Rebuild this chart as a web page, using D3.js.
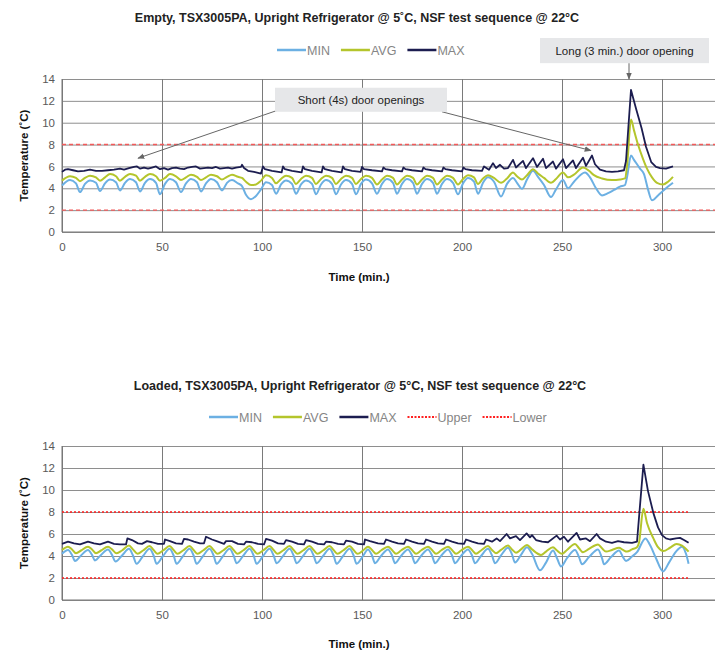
<!DOCTYPE html>
<html><head><meta charset="utf-8">
<script src="https://cdn.jsdelivr.net/npm/d3@7/dist/d3.min.js"></script>
<style>body{margin:0;background:#fff}svg{display:block;font-family:"Liberation Sans",Arial,Helvetica,sans-serif}</style>
</head><body>
<script>
// ---------------- DATA ----------------
const xTicks = [0, 50, 100, 150, 200, 250, 300];
const yTicks = [0, 2, 4, 6, 8, 10, 12, 14];
const limitUpper = 8, limitLower = 2;

const topTitle = "Empty, TSX3005PA, Upright Refrigerator @ 5˚C, NSF test sequence @ 22°C";
const bottomTitle = "Loaded, TSX3005PA, Upright Refrigerator @ 5°C, NSF test sequence @ 22°C";
const topLegend = ["MIN", "AVG", "MAX"];
const bottomLegend = ["MIN", "AVG", "MAX", "Upper", "Lower"];

// [time (min), temperature (°C)]
const topMin = [[0,4.25],[4,4.75],[7,4.45],[9,3.65],[11.5,4.4],[14,4.72],[17,4.5],[19,3.75],[21.5,4.45],[24,4.8],[27,4.55],[29,3.8],[31.5,4.5],[34,4.85],[37,4.55],[39,3.7],[41.5,4.5],[44,4.85],[47,4.5],[49,3.45],[51.5,4.4],[54,4.85],[57,4.55],[59.5,3.65],[62,4.45],[64.5,4.85],[67.5,4.55],[69.5,3.7],[72,4.45],[74.5,4.85],[77.5,4.55],[80,3.8],[82.5,4.5],[85,4.75],[88,4.45],[90,4.2],[92,3.4],[94.5,3.0],[97,3.3],[99.5,3.9],[102,4.55],[105,4.3],[107,3.5],[109.5,4.35],[112,4.72],[115,4.4],[117,3.5],[119.5,4.35],[122,4.72],[125,4.4],[127,3.45],[129.5,4.35],[132,4.75],[135,4.4],[137,3.45],[139.5,4.35],[142,4.75],[145,4.4],[147,3.45],[149.5,4.4],[152,4.8],[155,4.45],[157.5,3.5],[160,4.4],[162.5,4.85],[165.5,4.5],[167.5,3.5],[170,4.4],[172.5,4.85],[175.5,4.5],[177.5,3.5],[180,4.4],[182.5,4.85],[185.5,4.5],[187.5,3.5],[190,4.4],[192.5,4.85],[195.5,4.5],[198,3.45],[200.5,4.45],[203,4.95],[206,4.6],[208,3.5],[210.5,4.5],[213,5.0],[216,4.6],[219.5,3.25],[222.5,4.4],[225.5,4.95],[227.5,4.5],[230,3.95],[232.5,4.8],[235.5,5.6],[238,5.05],[241,4.3],[244.5,3.2],[247,3.9],[250.5,4.75],[253,4.0],[256,4.6],[261.5,5.45],[264,5.0],[267,4.0],[270,3.35],[273,3.55],[276,3.85],[279,4.15],[281.5,4.3],[282.5,5.0],[284.5,7.0],[286,6.6],[289,5.8],[291,5.3],[293,3.9],[295,2.9],[298,3.35],[301,3.85],[305.5,4.5]];

const topAvg = [[0,4.7],[4,5.1],[7,4.95],[9,4.65],[11.5,4.95],[14,5.15],[17,5.0],[19,4.7],[21.5,5.0],[24,5.3],[27,5.1],[29,4.7],[31.5,5.05],[34,5.3],[37,5.15],[39,4.7],[41.5,5.05],[44,5.3],[47,5.1],[49,4.7],[51.5,4.95],[54,5.3],[57,5.1],[59.5,4.75],[62,5.0],[64.5,5.25],[67.5,5.05],[69.5,4.75],[72,5.0],[74.5,5.25],[77.5,5.1],[80,4.8],[82.5,5.05],[85,5.25],[88,5.05],[90,4.95],[92,4.6],[94.5,4.3],[97,4.35],[99.5,4.7],[102,5.2],[105,4.95],[107,4.45],[109.5,4.85],[112,5.15],[115,4.95],[117,4.4],[119.5,4.85],[122,5.15],[125,4.95],[127,4.4],[129.5,4.85],[132,5.15],[135,4.95],[137,4.4],[139.5,4.85],[142,5.15],[145,4.95],[147,4.4],[149.5,4.85],[152,5.15],[155,4.95],[157.5,4.35],[160,4.8],[162.5,5.15],[165.5,4.95],[167.5,4.35],[170,4.8],[172.5,5.15],[175.5,4.95],[177.5,4.35],[180,4.8],[182.5,5.15],[185.5,4.95],[187.5,4.35],[190,4.8],[192.5,5.15],[195.5,4.95],[198,4.35],[200.5,4.85],[203,5.2],[206,5.0],[208,4.4],[210.5,4.9],[213,5.2],[216,4.95],[219.5,4.5],[222.5,4.9],[225.5,5.45],[227.5,5.1],[230,4.8],[232.5,5.2],[235.5,5.75],[238,5.35],[241,4.95],[244.5,4.5],[247,4.85],[250.5,5.45],[253,5.0],[256,5.25],[260.5,5.9],[263.5,5.6],[266,5.2],[270,4.9],[275,4.75],[279,4.8],[281.5,4.9],[282.5,6.0],[284.5,10.3],[286,9.3],[288,8.0],[290.5,6.7],[292.5,5.8],[295,5.0],[297.5,4.5],[300.5,4.35],[303,4.6],[305.5,5.05]];

const topMax = [[0,5.5],[1.5,5.7],[3,5.75],[5.5,5.65],[8,5.55],[11,5.6],[14,5.7],[17,5.6],[20,5.6],[23,5.65],[26,5.7],[29,5.8],[31,5.7],[33.5,5.85],[36,5.95],[37.5,6.0],[39,5.8],[41,5.9],[43,5.8],[45,5.9],[47,6.0],[49,5.75],[51,5.85],[53,5.7],[55,5.85],[57,5.9],[59,5.8],[61,5.75],[63,5.9],[65,5.95],[67,6.0],[69,5.8],[71,5.85],[73,5.9],[75,5.85],[77,5.95],[79,5.8],[81,5.85],[83,5.9],[85,5.8],[87,5.9],[89.5,5.95],[90,6.15],[91,5.85],[93,5.6],[96,5.5],[99.5,5.35],[100.5,6.0],[101.5,5.75],[105,5.6],[109.8,5.45],[110.5,6.0],[111.5,5.75],[115,5.6],[119.8,5.45],[120.5,6.0],[121.5,5.75],[125,5.6],[129.8,5.45],[130.5,6.0],[131.5,5.75],[135,5.6],[139.8,5.45],[140.5,6.0],[141.5,5.75],[145,5.6],[149.3,5.5],[150,5.95],[151,5.75],[155,5.65],[160,5.55],[160.7,5.9],[161.7,5.75],[165,5.65],[170,5.55],[170.7,5.9],[171.7,5.75],[175,5.65],[180,5.55],[180.7,5.9],[181.7,5.75],[185,5.65],[190,5.55],[190.7,5.9],[191.7,5.75],[195,5.65],[200,5.55],[200.7,5.9],[201.7,5.75],[205,5.65],[210,5.6],[211,6.0],[213.5,5.7],[215.5,6.3],[217,5.85],[219,6.15],[221,5.8],[223,5.85],[225.5,6.6],[227,5.9],[230.5,6.5],[232,5.85],[235.5,6.75],[237.5,5.95],[240.5,6.7],[242,5.85],[245.5,6.45],[247,5.8],[250.5,6.65],[252,5.85],[255.5,6.55],[257,5.85],[260.5,6.8],[262,6.05],[265,7.0],[266.5,6.2],[269,5.7],[272,5.55],[275,5.5],[278,5.55],[281,5.65],[282,6.5],[284.5,13.0],[287,11.3],[289.8,9.5],[292,7.8],[294.6,6.4],[297,5.95],[299,5.85],[302,5.8],[305.5,6.0]];

const bottomMin = [[0,4.2],[3,4.55],[5,4.1],[6.5,3.55],[9.5,4.05],[13,4.55],[15,4.1],[16.5,3.6],[19.5,4.1],[23,4.6],[25,4.1],[26.8,3.5],[30,4.05],[33.5,4.65],[35.5,4.05],[37.3,3.3],[40.5,4.0],[43.8,4.65],[45.8,4.05],[47.3,3.3],[50.5,4.0],[53.8,4.65],[55.8,4.05],[57.3,3.3],[60.5,4.0],[63.8,4.65],[65.8,4.05],[67.3,3.3],[70.5,4.0],[73.8,4.65],[75.8,4.05],[77.3,3.3],[80.5,4.0],[83.8,4.65],[85.8,4.05],[87.3,3.35],[90.5,4.0],[93.8,4.65],[95.8,4.05],[97.3,3.3],[100.5,4.0],[103.8,4.65],[105.8,4.05],[107.3,3.35],[110.5,4.0],[113.8,4.65],[115.8,4.05],[117.3,3.35],[120.5,4.0],[123.8,4.65],[125.8,4.05],[127.3,3.35],[130.5,4.0],[133.8,4.65],[135.8,4.05],[137.3,3.3],[140.5,4.0],[143.8,4.65],[145.8,4.05],[147.3,3.3],[150.5,4.0],[153,4.6],[155,4.05],[156.5,3.35],[159.5,4.0],[163,4.6],[165,4.05],[166.5,3.35],[169.5,4.0],[173,4.6],[175,4.05],[176.5,3.35],[179.5,4.0],[183,4.6],[185,4.05],[186.5,3.35],[189.5,4.0],[193,4.6],[195,4.05],[196.5,3.35],[199.5,4.0],[203,4.6],[205,4.05],[206.5,3.35],[209.5,4.0],[213,4.65],[215,4.05],[216.5,3.35],[219.5,4.05],[223,4.75],[225,4.15],[226.5,3.4],[229.5,4.1],[232.5,4.8],[235,4.2],[239,2.7],[242,3.4],[245.5,4.5],[247.5,3.8],[249.5,3.05],[252.5,3.8],[256.5,4.55],[258.5,3.9],[260,3.25],[263.5,3.9],[268,4.6],[270,3.8],[271,3.25],[274.5,3.9],[278.5,4.5],[280.5,3.9],[282,3.55],[285,3.95],[287.5,4.35],[291.7,5.6],[294,5.0],[297,3.8],[300.5,2.6],[303.5,3.4],[307,4.4],[310,4.85],[312,4.2],[313.3,3.3]];

const bottomAvg = [[0,4.55],[3,4.85],[5,4.6],[7,4.25],[9.5,4.5],[13,4.85],[15,4.6],[17,4.25],[19.5,4.5],[23,4.85],[25,4.6],[27.3,4.25],[30,4.5],[33.5,4.95],[35.5,4.6],[37.8,4.2],[40.5,4.5],[43.8,4.9],[45.8,4.55],[47.8,4.2],[50.5,4.5],[53.8,4.9],[55.8,4.55],[57.8,4.2],[60.5,4.5],[63.8,4.9],[65.8,4.55],[67.8,4.2],[70.5,4.5],[73.8,4.9],[75.8,4.55],[77.8,4.2],[80.5,4.5],[83.8,4.9],[85.8,4.55],[87.8,4.2],[90.5,4.5],[93.8,4.9],[95.8,4.55],[97.8,4.2],[100.5,4.5],[103.8,4.9],[105.8,4.55],[107.8,4.2],[110.5,4.5],[113.8,4.9],[115.8,4.55],[117.8,4.2],[120.5,4.5],[123.8,4.9],[125.8,4.55],[127.8,4.2],[130.5,4.5],[133.8,4.9],[135.8,4.55],[137.8,4.2],[140.5,4.5],[143.8,4.9],[145.8,4.55],[147.8,4.2],[150.5,4.5],[153,4.85],[155,4.55],[157,4.2],[159.5,4.5],[163,4.85],[165,4.55],[167,4.2],[169.5,4.5],[173,4.85],[175,4.55],[177,4.2],[179.5,4.5],[183,4.85],[185,4.55],[187,4.2],[189.5,4.5],[193,4.85],[195,4.55],[197,4.2],[199.5,4.5],[203,4.85],[205,4.55],[207,4.2],[209.5,4.5],[213,4.9],[215,4.55],[217,4.25],[219.5,4.55],[223,4.95],[225,4.6],[227,4.3],[229.5,4.6],[232.5,5.0],[235,4.6],[239.5,4.1],[242,4.4],[245.5,4.8],[247.5,4.5],[250,4.2],[252.5,4.55],[256.5,5.1],[258.5,4.7],[260.5,4.35],[263.5,4.65],[268,5.05],[270,4.7],[272,4.4],[275,4.55],[278.5,4.75],[280.5,4.55],[282.5,4.4],[285,4.6],[287.5,4.8],[288.5,5.2],[290.7,8.3],[292.5,7.0],[295.7,5.6],[298,4.8],[300.7,4.45],[304,4.75],[307.3,5.1],[310,4.95],[313.3,4.4]];

const bottomMax = [[0,5.1],[3,5.3],[6,5.15],[9,5.05],[13,5.3],[16,5.15],[19,5.05],[23,5.3],[26,5.1],[29,5.05],[32,5.05],[32.7,5.6],[35,5.45],[38,5.15],[40,5.1],[42.5,5.35],[45,5.25],[48,5.1],[51,5.1],[51.5,5.5],[54,5.35],[57,5.15],[60,5.1],[61,5.55],[63,5.5],[66,5.3],[69,5.15],[71,5.15],[72,5.75],[75,5.5],[78,5.3],[81,5.1],[82,5.35],[85,5.35],[88,5.1],[91,5.05],[92,5.3],[95,5.25],[98,5.1],[101,5.05],[102,5.55],[105,5.4],[108,5.15],[111,5.1],[112,5.45],[115,5.3],[118,5.1],[121,5.05],[122,5.45],[125,5.3],[128,5.1],[131,5.05],[132,5.3],[135,5.25],[138,5.1],[141,5.05],[142,5.4],[145,5.3],[148,5.1],[151,5.05],[151.5,5.5],[154,5.35],[158,5.15],[161,5.1],[162,5.5],[165,5.3],[168,5.15],[171,5.1],[172,5.5],[175,5.3],[178,5.15],[181,5.1],[182,5.5],[185,5.3],[188,5.15],[191,5.1],[192,5.5],[195,5.3],[198,5.15],[201,5.1],[202,5.5],[205,5.3],[208,5.15],[211,5.1],[212,5.5],[215,5.3],[217.3,5.6],[219,5.35],[222.3,6.0],[224,5.6],[227,5.8],[229,5.45],[232.3,6.05],[234,5.7],[235,5.9],[237,5.45],[240,5.3],[243,5.25],[247.3,5.85],[249,5.5],[251,5.75],[253,5.3],[257.3,6.1],[259,5.5],[262,5.6],[264,5.35],[267.3,6.0],[269,5.6],[272,5.3],[275,5.2],[278,5.35],[281,5.25],[285,5.2],[287.5,5.3],[290.7,12.3],[293,9.9],[295.7,7.9],[298,6.6],[300,5.9],[302,5.6],[304,5.5],[307,5.6],[309,5.65],[311,5.45],[313.3,5.2]];

// annotations (in data units: time, °C)
const shortNote = {text: "Short (4s) door openings", box: [106.5, 192.5, 13.2, 11.0],
  arrows: [[[108, 11.15], [38, 6.75]], [[190, 11.0], [264.5, 7.45]]]};
const longNote = {text: "Long (3 min.) door opening", box: [239, 323.5, 17.75, 15.45],
  arrows: [[[283.5, 15.45], [283.5, 14.0]]]};

// ---------------- DRAW ----------------
const W = 715, H = 650;
const C = {min: "#6cb0e3", avg: "#b4c52c", max: "#1c1d50", red: "#f03c3c", grid: "#8e8e8e", tick: "#595959"};
const svg = d3.select("body").append("svg").attr("width", W).attr("height", H);
const defs = svg.append("defs");
defs.append("marker").attr("id", "ah").attr("viewBox", "0 0 10 10").attr("refX", 9).attr("refY", 5)
  .attr("markerWidth", 7).attr("markerHeight", 7).attr("orient", "auto-start-reverse")
  .append("path").attr("d", "M0,1 L10,5 L0,9 z").attr("fill", "#666");
defs.append("clipPath").attr("id", "clipAll").append("rect").attr("x", 0).attr("y", 0).attr("width", W).attr("height", H);

const x = d3.scaleLinear().domain([0, 350]).range([62, 762]);

function drawChart(opt) {
  const g = svg.append("g").attr("clip-path", "url(#clipAll)");
  const y = d3.scaleLinear().domain([0, 14]).range([opt.bottom, opt.top]);

  // grid + y labels
  const ya = g.append("g").attr("transform", `translate(${x(0)},0)`)
    .call(d3.axisLeft(y).tickValues(yTicks).tickSize(-(W - x(0))).tickPadding(7));
  ya.select(".domain").remove();
  ya.selectAll(".tick line").attr("stroke", C.grid).attr("stroke-width", 1);
  ya.selectAll(".tick text").attr("fill", C.tick).style("font-size", "11.5px").style("font-family", "Liberation Sans, Arial");

  const xa = g.append("g").attr("transform", `translate(0,${y(0)})`)
    .call(d3.axisBottom(x).tickValues(xTicks).tickSize(-(y(0) - y(14))).tickPadding(11));
  xa.select(".domain").remove();
  xa.selectAll(".tick line").attr("stroke", "#7a7a7a").attr("stroke-width", 1);
  xa.selectAll(".tick text").attr("fill", C.tick).style("font-size", "11.5px").style("font-family", "Liberation Sans, Arial");

  g.append("line").attr("x1", x(0)).attr("x2", W).attr("y1", y(0)).attr("y2", y(0)).attr("stroke", "#777");
  g.append("line").attr("x1", x(0)).attr("x2", x(0)).attr("y1", y(0)).attr("y2", y(14)).attr("stroke", "#777");

  // limit lines
  [limitUpper, limitLower].forEach(v => {
    g.append("line").attr("x1", x(0)).attr("x2", opt.limitEnd).attr("y1", y(v)).attr("y2", y(v))
      .attr("stroke", opt.limitColor).attr("stroke-width", opt.limitWidth).attr("stroke-dasharray", opt.limitDash);
  });

  // series
  const smooth = d3.line().x(d => x(d[0])).y(d => y(d[1])).curve(d3.curveMonotoneX);
  const straight = d3.line().x(d => x(d[0])).y(d => y(d[1]));
  g.append("path").attr("d", smooth(opt.min)).attr("fill", "none").attr("stroke", C.min).attr("stroke-width", 2).attr("stroke-linejoin", "round");
  g.append("path").attr("d", smooth(opt.avg)).attr("fill", "none").attr("stroke", C.avg).attr("stroke-width", 2).attr("stroke-linejoin", "round");
  g.append("path").attr("d", straight(opt.max)).attr("fill", "none").attr("stroke", C.max).attr("stroke-width", 1.8).attr("stroke-linejoin", "round");

  // title
  svg.append("text").attr("x", opt.titleX).attr("y", opt.titleY).attr("text-anchor", "middle")
    .attr("font-weight", "bold").attr("font-size", "12.5px").attr("fill", "#222").text(opt.title);

  // axis titles
  svg.append("text").attr("x", 359).attr("y", opt.xTitleY).attr("text-anchor", "middle")
    .attr("font-weight", "bold").attr("font-size", "11.5px").attr("fill", "#111").text("Time (min.)");
  svg.append("text").attr("transform", `translate(28,${(y(0) + y(14)) / 2}) rotate(-90)`).attr("text-anchor", "middle")
    .attr("font-weight", "bold").attr("font-size", "11.5px").attr("fill", "#111").text("Temperature (˚C)");

  // legend
  let lx = opt.legendX;
  const ly = opt.legendY;
  opt.legend.forEach(name => {
    const ln = svg.append("line").attr("x1", lx).attr("x2", lx + 29).attr("y1", ly).attr("y2", ly);
    if (name === "Upper" || name === "Lower") {
      ln.attr("stroke", "#ff2020").attr("stroke-width", 2).attr("stroke-dasharray", "2,1.5");
    } else {
      ln.attr("stroke", C[name.toLowerCase()]).attr("stroke-width", 2.5);
    }
    const t = svg.append("text").attr("x", lx + 30).attr("y", ly + 4.5).attr("font-size", "12.5px")
      .attr("fill", "#858585").text(name);
    lx += 30 + t.node().getComputedTextLength() + 11;
  });

  return {g, y};
}

function annotate(y, note) {
  const [t0, t1, v0, v1] = note.box;
  note.arrows.forEach(a => {
    svg.append("line").attr("x1", x(a[0][0])).attr("y1", y(a[0][1])).attr("x2", x(a[1][0])).attr("y2", y(a[1][1]))
      .attr("stroke", "#666").attr("stroke-width", 1).attr("marker-end", "url(#ah)");
  });
  svg.append("rect").attr("x", x(t0)).attr("y", y(v0)).attr("width", x(t1) - x(t0)).attr("height", y(v1) - y(v0))
    .attr("fill", "#e6e7e9");
  svg.append("text").attr("x", (x(t0) + x(t1)) / 2).attr("y", (y(v0) + y(v1)) / 2 + 4)
    .attr("text-anchor", "middle").attr("font-size", "11.5px").attr("fill", "#222").text(note.text);
}

const topC = drawChart({top: 79, bottom: 232, min: topMin, avg: topAvg, max: topMax,
  limitEnd: W, limitColor: "#f25a5a", limitWidth: 1.4, limitDash: "4,3",
  title: topTitle, titleX: 357, titleY: 22, xTitleY: 281, legend: topLegend, legendX: 277, legendY: 50});
annotate(topC.y, shortNote);
annotate(topC.y, longNote);

drawChart({top: 446, bottom: 600, min: bottomMin, avg: bottomAvg, max: bottomMax,
  limitEnd: x(313.3), limitColor: "#ff1e1e", limitWidth: 1.6, limitDash: "2,2",
  title: bottomTitle, titleX: 360, titleY: 390, xTitleY: 648, legend: bottomLegend, legendX: 209, legendY: 417});
</script>
</body></html>
